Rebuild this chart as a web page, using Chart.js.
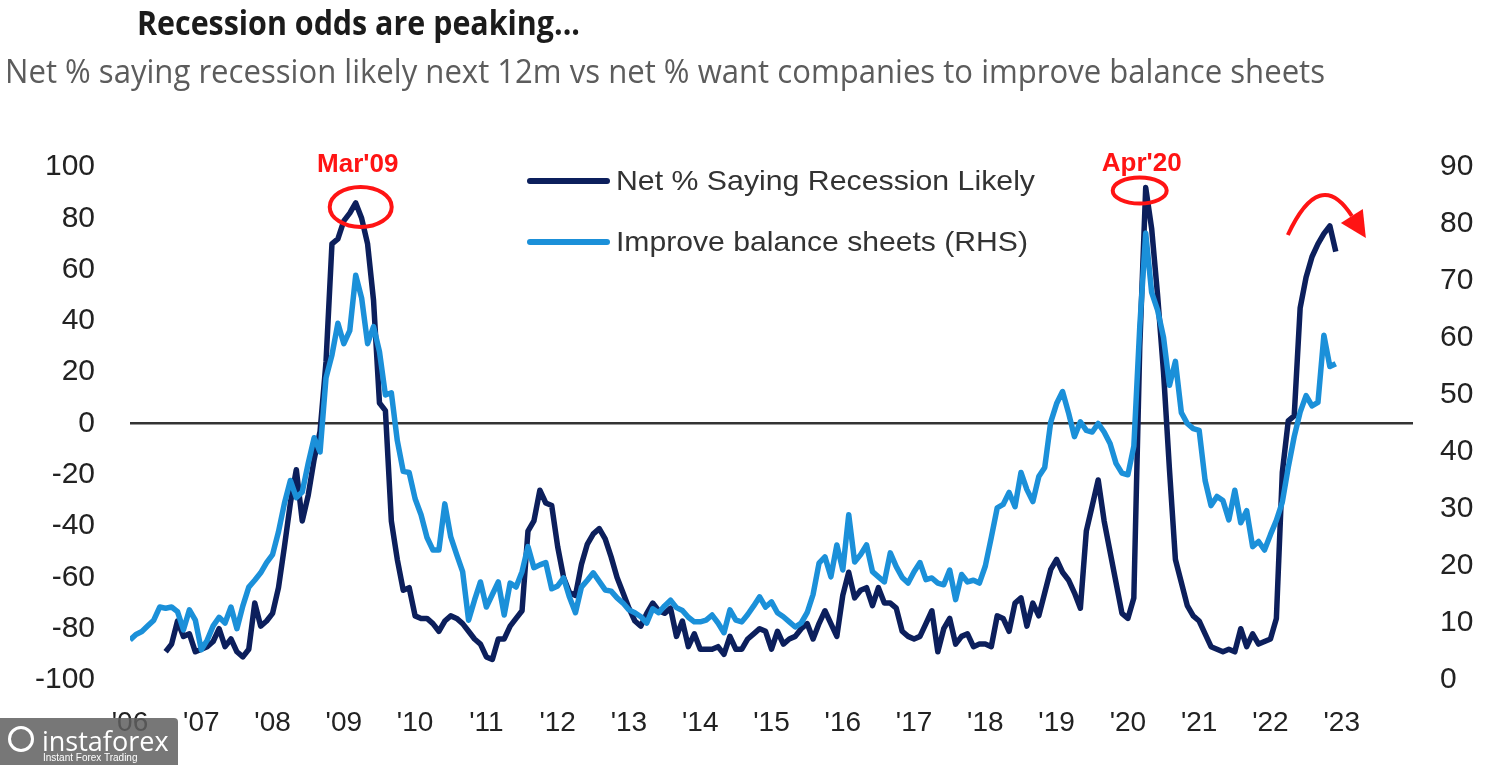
<!DOCTYPE html>
<html>
<head>
<meta charset="utf-8">
<script src="https://cdn.jsdelivr.net/npm/chart.js@4.4.1/dist/chart.umd.min.js"></script>
<style>
  html, body { margin: 0; padding: 0; background: #fff; }
  #wrap { position: relative; width: 1500px; height: 765px; overflow: hidden; font-family: "Liberation Sans", Arial, sans-serif; }
  #chart { position: absolute; left: 0; top: 0; }
  .txt { position: absolute; white-space: nowrap; line-height: 1; transform-origin: left center; }
  #title { left: 137px; top: 5px; font-family: "Open Sans", sans-serif; font-weight: 700; font-size: 34px; color: #1b1b1b; }
  #subtitle { left: 5px; top: 55px; font-family: "Open Sans", sans-serif; font-weight: 400; font-size: 32px; color: #5c5c5c; }
  .swatch { position: absolute; left: 527px; width: 83px; height: 6px; border-radius: 3px; }
  .legend-label { left: 616px; font-size: 28px; color: #333; }
  .callout { font-weight: 700; font-size: 26px; color: #ff1414; transform-origin: center center; }
  #badge { position: absolute; left: 0; top: 718px; width: 178px; height: 47px; background: rgba(95, 95, 95, 0.85); border-top-right-radius: 4px; color: #fff; }
  #badge .logo { position: absolute; left: 8px; top: 8px; width: 26px; height: 26px; border: 3px solid #fff; border-radius: 50%; box-sizing: border-box; }
  #badge .name { position: absolute; left: 42px; top: 4px; font-size: 27px; font-family: "Open Sans", sans-serif; }
  #badge .tag { position: absolute; left: 43px; top: 34px; font-size: 10px; }
</style>
</head>
<body>
<div id="wrap">
  <canvas id="chart" width="1500" height="765"></canvas>
  <div class="txt" id="title">Recession odds are peaking...</div>
  <div class="txt" id="subtitle">Net % saying recession likely next 12m vs net % want companies to improve balance sheets</div>
  <div class="swatch" id="swDark" style="top:178px"></div>
  <div class="swatch" id="swLight" style="top:239px"></div>
  <div class="txt legend-label" id="lgDark" style="top:167px">Net % Saying Recession Likely</div>
  <div class="txt legend-label" id="lgLight" style="top:228px">Improve balance sheets (RHS)</div>
  <div class="txt callout" id="calloutMar">Mar'09</div>
  <div class="txt callout" id="calloutApr">Apr'20</div>
  <div id="badge"><div class="logo"></div><div class="name">instaforex</div><div class="tag">Instant Forex Trading</div></div>
</div>
<script>
const DARK = "#0c1f5c";
const LIGHT = "#1b90d9";

const startYear = 2006;
const yearTicks = ["'06", "'07", "'08", "'09", "'10", "'11", "'12", "'13", "'14", "'15", "'16", "'17", "'18", "'19", "'20", "'21", "'22", "'23"];

// monthly, Jan 2006 .. Dec 2022
const recessionLikely = [
  null, null, null, null, null, null, -89, -86, -77, -83, -82, -89,
  -88, -87, -85, -80, -87, -84, -89, -91, -88, -70, -79, -77,
  -74, -64, -48, -31, -18, -38, -28, -14, -3, 24, 70, 72,
  79, 82, 86, 80, 70, 48, 8, 5, -38, -53, -65, -64,
  -75, -76, -76, -78, -81, -77, -75, -76, -78, -81, -84, -86,
  -91, -92, -84, -84, -79, -76, -73, -42, -38, -26, -31, -32,
  -48, -60, -66, -67, -55, -47, -43, -41, -45, -52, -60, -66,
  -72, -77, -79, -74, -70, -73, -74, -72, -83, -77, -87, -82,
  -88, -88, -88, -87, -90, -83, -88, -88, -84, -82, -80, -81,
  -88, -81, -86, -84, -83, -80, -78, -84, -78, -73, -78, -83,
  -67, -58, -68, -65, -64, -71, -64, -70, -70, -72, -81, -83,
  -84, -83, -78, -73, -89, -80, -76, -86, -83, -82, -87, -86,
  -86, -87, -75, -76, -81, -70, -68, -79, -70, -75, -66, -57,
  -53, -58, -61, -66, -72, -42, -32, -22, -38, -50, -62, -74,
  -76, -68, 30, 92, 76, 50, 20, -18, -53, -62, -71, -75,
  -77, -82, -87, -88, -89, -88, -89, -80, -87, -82, -86, -85,
  -84, -76, -19, 1, 3, 45, 57, 65, 70, 74, 77, 67
];

const improveBalanceSheets = [
  7.0, 8.0, 8.5, 9.5, 10.5, 12.8, 12.6, 12.8, 12.0, 8.8, 12.3, 10.5,
  5.3, 7.0, 9.5, 11.0, 10.0, 12.8, 9.0, 13.0, 16.3, 17.5, 18.8, 20.6,
  22, 26, 31, 35, 32, 33, 38, 42.5, 40, 53, 57, 62.6,
  59, 61.3, 71, 67, 59, 62, 57.6, 50, 50.4, 42, 36.6, 36.4,
  31.8, 29, 25, 22.8, 22.8, 30.9, 25.1, 22, 19, 10.5, 14, 17.2,
  12.8, 15, 17.2, 11.4, 17, 16.3, 19, 23.4, 19.7, 20.2, 20.6, 16,
  16.5, 17.9, 14.5, 11.8, 16.3, 17.5, 18.8, 17.3, 15.8, 15.6, 14.4, 13.5,
  12.3, 11.8, 11.1, 10, 12.5, 11.8, 13, 14, 12.7, 12.2, 11, 10.2,
  10.2, 10.5, 11.4, 10, 8.3, 12.3, 10.5, 10.2, 11.5, 13, 14.6, 12.8,
  13.7, 11.8, 11.1, 10.2, 9.3, 10, 11.8, 15, 20.5, 21.6, 18.1, 23.7,
  19.3, 29, 20.7, 22, 23.7, 19, 18.1, 17.2, 22.3, 19.9, 18, 17,
  19, 20.6, 17.6, 17.9, 17, 16.7, 19.3, 14.1, 18.5, 17.2, 17.5, 17,
  20, 25, 30.2, 30.8, 32.9, 30.4, 36.4, 33.4, 31.3, 35.7, 37.3, 45.2,
  48.5, 50.6, 46.9, 42.7, 45.3, 43.8, 43.5, 45, 43.5, 41.5, 38, 36.3,
  36, 41, 62, 78.4, 68, 64.9, 60.1, 51.7, 55.9, 46.9, 45, 44.1,
  43.8, 35, 30.6, 32.2, 31.5, 28.1, 33.3, 27.6, 29.7, 23.4, 24.3, 22.8,
  25.5, 28, 31.2, 37.3, 42.7, 47, 49.9, 48.1, 48.7, 60.5, 55, 55.5
];

const toPoints = (arr) => arr.map((v, i) => ({ x: startYear + i / 12, y: v }));

const tickFont = { family: "'Liberation Sans', Arial, sans-serif", size: 30 };
const xFont = { family: "'Liberation Sans Narrow', 'Liberation Sans', Arial, sans-serif", size: 28 };

// red circles and the turning arrow
const callouts = {
  id: "callouts",
  afterDatasetsDraw(chart) {
    const { ctx, scales } = chart;
    const { x, y } = scales;
    ctx.save();
    ctx.strokeStyle = "#ff1414";
    ctx.fillStyle = "#ff1414";
    ctx.lineWidth = 4;

    const marX = x.getPixelForValue(startYear + 38 / 12) + 5;
    const marY = y.getPixelForValue(recessionLikely[38]) + 4;
    ctx.beginPath();
    ctx.ellipse(marX, marY, 31, 20, 0, 0, Math.PI * 2);
    ctx.stroke();

    const aprX = x.getPixelForValue(startYear + 171 / 12) - 6;
    const aprY = y.getPixelForValue(recessionLikely[171]) + 3;
    ctx.beginPath();
    ctx.ellipse(aprX, aprY, 27, 13, 0, 0, Math.PI * 2);
    ctx.stroke();

    // arrow over the latest peak
    const px = x.getPixelForValue(startYear + 202 / 12);
    const py = y.getPixelForValue(recessionLikely[202]);
    const sx = px - 42, sy = py + 9;
    const cx = px - 10, cy = py - 60;
    const ex = px + 22, ey = py - 10;
    ctx.beginPath();
    ctx.moveTo(sx, sy);
    ctx.quadraticCurveTo(cx, cy, ex, ey);
    ctx.stroke();
    const dx = ex - cx, dy = ey - cy;
    const len = Math.hypot(dx, dy);
    const ux = dx / len, uy = dy / len;
    ctx.beginPath();
    ctx.moveTo(ex + ux * 26, ey + uy * 26);
    ctx.lineTo(ex - uy * 13, ey + ux * 13);
    ctx.lineTo(ex + uy * 13, ey - ux * 13);
    ctx.closePath();
    ctx.fill();
    ctx.restore();
  }
};

const chart = new Chart(document.getElementById("chart"), {
  type: "line",
  data: {
    datasets: [
      {
        label: "Net % Saying Recession Likely",
        data: toPoints(recessionLikely),
        borderColor: DARK,
        borderWidth: 5.5,
        pointRadius: 0,
        tension: 0,
        borderJoinStyle: "round",
        yAxisID: "y",
        order: 1,
      },
      {
        label: "Improve balance sheets (RHS)",
        data: toPoints(improveBalanceSheets),
        borderColor: LIGHT,
        borderWidth: 5.5,
        pointRadius: 0,
        tension: 0,
        borderJoinStyle: "round",
        yAxisID: "y1",
        order: 0,
      },
    ],
  },
  options: {
    responsive: false,
    animation: false,
    devicePixelRatio: 1,
    layout: { padding: { top: 167, left: 0, right: 0, bottom: 0 } },
    plugins: { legend: { display: false }, tooltip: { enabled: false } },
    scales: {
      x: {
        type: "linear",
        min: startYear,
        max: startYear + 18,
        afterBuildTicks: (s) => { s.ticks = yearTicks.map((t, i) => ({ value: startYear + i })); },
        afterFit: (s) => { s.height = 85; },
        ticks: {
          callback: (v) => yearTicks[Math.round(v) - startYear],
          autoSkip: false,
          maxRotation: 0,
          padding: 18,
          font: xFont,
          color: "#222",
        },
        grid: { display: false },
        border: { display: false },
      },
      y: {
        position: "left",
        min: -100,
        max: 100,
        afterFit: (s) => { s.width = 130; },
        ticks: { stepSize: 20, padding: 35, font: tickFont, color: "#222" },
        grid: {
          drawTicks: false,
          color: (c) => (c.tick && c.tick.value === 0 ? "#333" : "rgba(0,0,0,0)"),
          lineWidth: 2.5,
        },
        border: { display: false },
      },
      y1: {
        position: "right",
        min: 0,
        max: 90,
        afterFit: (s) => { s.width = 87; },
        ticks: { stepSize: 10, padding: 27, font: tickFont, color: "#222" },
        grid: { display: false, drawTicks: false },
        border: { display: false },
      },
    },
  },
  plugins: [callouts],
});

// html text: legend swatches, fitted widths, callout labels
document.getElementById("swDark").style.background = DARK;
document.getElementById("swLight").style.background = LIGHT;

const fitWidth = (id, w) => {
  const el = document.getElementById(id);
  const r = el.getBoundingClientRect().width;
  if (r > 0) el.style.transform = `scaleX(${w / r})`;
};
fitWidth("title", 443);
fitWidth("subtitle", 1320);
fitWidth("lgDark", 419);
fitWidth("lgLight", 412);

const placeCallout = (id, idx, dx, top) => {
  const el = document.getElementById(id);
  const cx = chart.scales.x.getPixelForValue(startYear + idx / 12) + dx;
  const w = el.getBoundingClientRect().width;
  el.style.left = `${cx - w / 2}px`;
  el.style.top = `${top}px`;
};
placeCallout("calloutMar", 38, 2, 150);
placeCallout("calloutApr", 171, -4, 149);
</script>
</body>
</html>
